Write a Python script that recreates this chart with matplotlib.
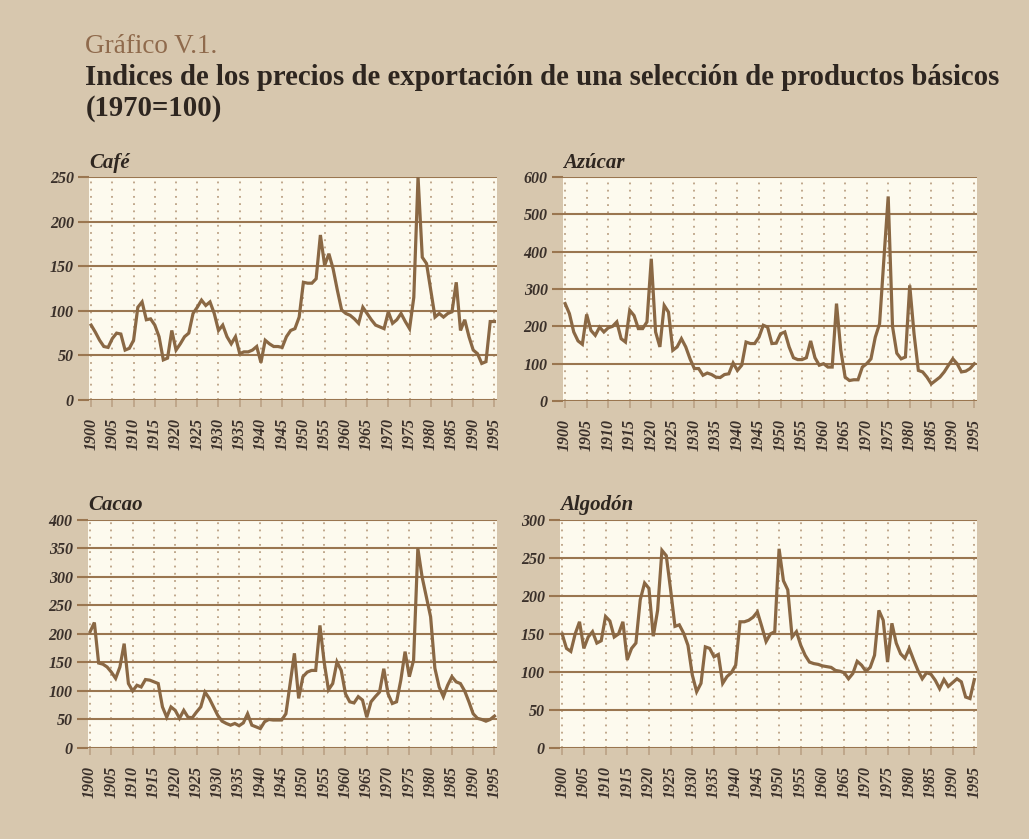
import numpy as np
import matplotlib
matplotlib.use("Agg")
import matplotlib.pyplot as plt

years = np.arange(1900, 1996)

cafe = [84, 76, 67, 60, 59, 69, 75, 74, 56, 58,
        67, 104, 110, 90, 91, 84, 71, 45, 47, 78,
        56, 63, 71, 75, 97, 104, 112, 106, 110, 97,
        78, 84, 71, 63, 71, 52, 54, 54, 56, 60,
        42, 67, 63, 60, 60, 59, 71, 78, 80, 93,
        132, 131, 131, 136, 185, 151, 164, 147, 123, 101,
        97, 95, 91, 86, 104, 97, 90, 84, 82, 80,
        99, 86, 90, 97, 88, 80, 115, 250, 160, 153,
        123, 93, 97, 93, 97, 99, 132, 78, 90, 71,
        56, 52, 41, 43, 88, 88]

azucar = [261, 234, 185, 161, 152, 232, 189, 176, 198, 185,
          196, 200, 212, 167, 158, 243, 229, 194, 194, 212,
          381, 185, 145, 256, 238, 136, 145, 167, 145, 113,
          87, 87, 69, 75, 71, 64, 63, 71, 73, 102,
          82, 96, 158, 154, 154, 171, 203, 198, 154, 155,
          180, 185, 145, 116, 111, 111, 116, 161, 116, 96,
          100, 91, 91, 261, 136, 64, 55, 57, 57, 91,
          100, 113, 171, 207, 380, 548, 200, 128, 113, 118,
          310, 180, 82, 78, 64, 46, 55, 64, 78, 96,
          113, 100, 78, 80, 87, 100]

cacao = [204, 220, 149, 147, 142, 133, 122, 142, 183, 113,
         100, 110, 107, 120, 119, 116, 113, 72, 54, 72,
         66, 52, 66, 54, 53, 63, 72, 98, 87, 72,
         57, 47, 43, 40, 43, 39, 44, 60, 40, 37,
         34, 46, 50, 49, 49, 49, 60, 113, 166, 87,
         125, 133, 136, 136, 215, 150, 102, 113, 151, 136,
         95, 81, 79, 90, 84, 54, 81, 90, 98, 139,
         95, 78, 81, 119, 169, 125, 154, 350, 300, 265,
         230, 140, 107, 90, 110, 125, 116, 113, 100, 81,
         60, 52, 50, 47, 50, 56]

algodon = [150, 131, 127, 150, 166, 131, 146, 153, 138, 141,
           173, 167, 146, 150, 166, 116, 131, 138, 195, 217,
           210, 147, 181, 260, 253, 208, 160, 162, 151, 135,
           96, 74, 85, 133, 131, 120, 123, 85, 94, 99,
           109, 166, 166, 168, 172, 179, 160, 140, 150, 153,
           262, 220, 208, 146, 153, 135, 122, 113, 111, 110,
           108, 107, 106, 102, 101, 99, 91, 98, 114, 109,
           101, 106, 122, 181, 168, 113, 164, 138, 124, 118,
           131, 116, 102, 91, 99, 97, 89, 78, 90, 81,
           86, 91, 87, 67, 65, 90]

panels = [
    ("Café", cafe, [0, 50, 100, 150, 200, 250]),
    ("Azúcar", azucar, [0, 100, 200, 300, 400, 500, 600]),
    ("Cacao", cacao, [0, 50, 100, 150, 200, 250, 300, 350, 400]),
    ("Algodón", algodon, [0, 50, 100, 150, 200, 250, 300]),
]

# axes rectangles in figure fractions (left, bottom, width, height)
rects = [
    (0.0865, 0.5232, 0.3965, 0.2658),
    (0.5471, 0.5220, 0.4023, 0.2670),
    (0.0855, 0.1085, 0.3975, 0.2718),
    (0.5442, 0.1085, 0.4052, 0.2718),
]

BG = "#d7c7ae"
PANEL = "#fdfaee"
LINE = "#8a6844"
GRID = "#9a7650"
DOT = "#bba184"
TXT = "#3a302a"
SERIF = ["Liberation Serif", "DejaVu Serif"]

fig = plt.figure(figsize=(10.29, 8.39), dpi=100, facecolor=BG)

fig.text(0.083, 0.944, "Gráfico V.1.", family=SERIF, fontsize=19.5,
         color="#8f6a4c", va="center", ha="left")
fig.text(0.083, 0.908, "Indices de los precios de exportación de una selección de productos básicos",
         family=SERIF, fontsize=20.7, fontweight="bold", color="#2e2620",
         va="center", ha="left")
fig.text(0.083, 0.871, "(1970=100)", family=SERIF, fontsize=20.7,
         fontweight="bold", color="#2e2620", va="center", ha="left")

for (name, values, yticks), rect in zip(panels, rects):
    ax = fig.add_axes(rect)
    ax.set_facecolor(PANEL)
    ax.plot(years, values, color=LINE, linewidth=2.3, solid_joinstyle="miter")
    ax.set_xlim(1899.5, 1995.6)
    ax.set_ylim(yticks[0], yticks[-1])
    for y in yticks:
        ax.axhline(y, color=GRID, linewidth=1.5, zorder=1)
    for x in range(1900, 1996, 5):
        ax.axvline(x, color=DOT, linewidth=1.3, linestyle=(0, (1, 3)), zorder=0.5)
    ax.set_yticks(yticks)
    ax.set_yticklabels([str(t) for t in yticks], family=SERIF, style="italic",
                       fontweight="bold", fontsize=11.5, color=TXT)
    ax.set_xticks(range(1900, 1996, 5))
    ax.set_xticklabels([str(t) for t in range(1900, 1996, 5)], rotation=90,
                       family=SERIF, style="italic", fontweight="bold",
                       fontsize=11.5, color=TXT)
    ax.tick_params(axis="y", length=8, width=1.5, color=GRID, pad=3)
    ax.tick_params(axis="x", length=5, width=1.2, color=DOT, pad=8)
    for s in ax.spines.values():
        s.set_visible(False)
    ax.text(0.0, 1.02, name, transform=ax.transAxes, family=SERIF,
            style="italic", fontweight="bold", fontsize=15, color="#2e2620",
            ha="left", va="bottom")

fig.savefig("out.png", dpi=100, facecolor=BG)
